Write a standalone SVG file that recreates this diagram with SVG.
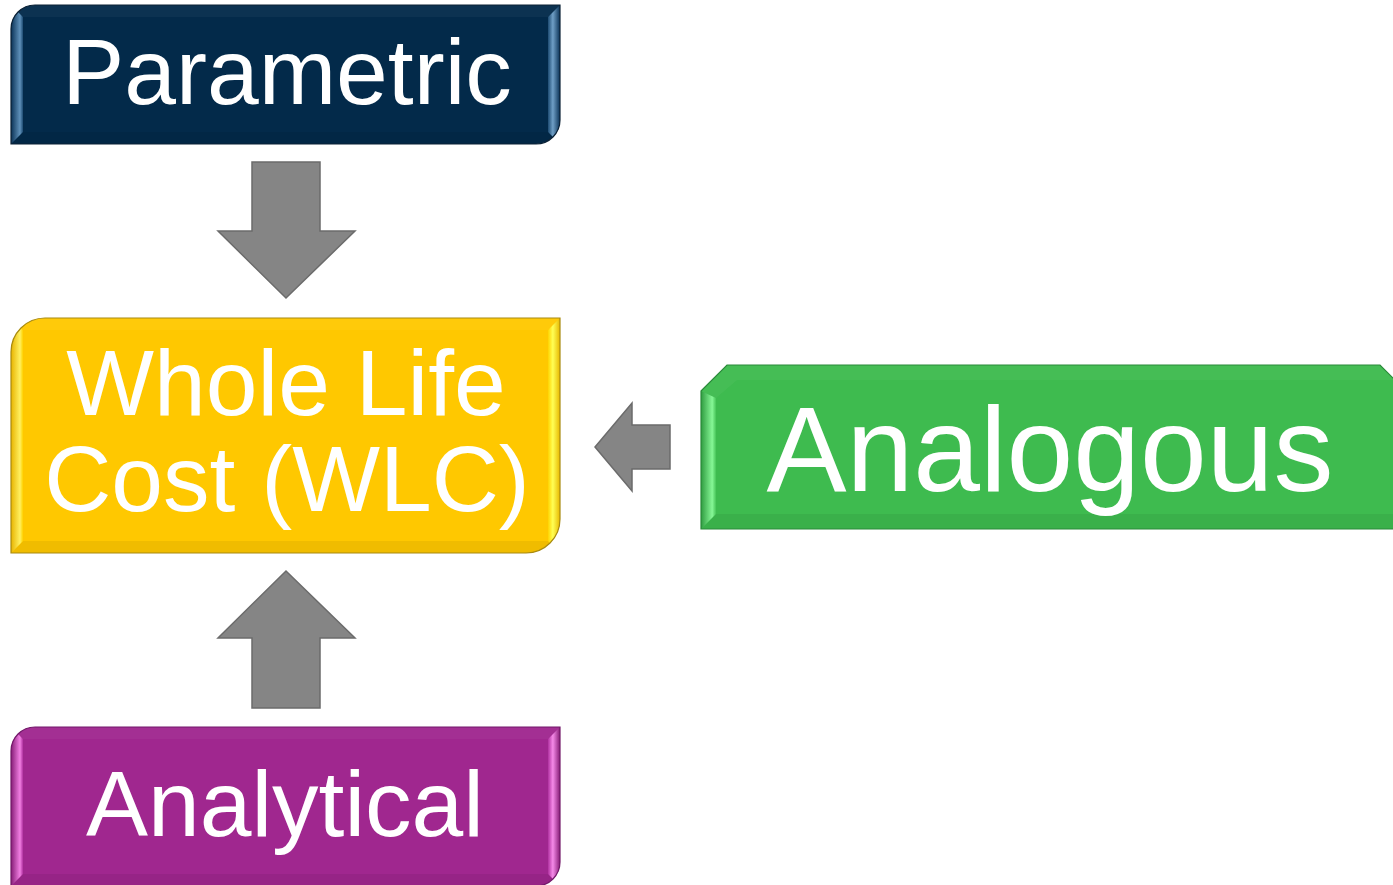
<svg xmlns="http://www.w3.org/2000/svg" width="1393" height="885" viewBox="0 0 1393 885">
  <style>
    .label { font-family: "Liberation Sans", Arial, sans-serif; fill: #ffffff; text-anchor: middle; }
    .arrow { fill: #858585; stroke: #6b6b6b; stroke-width: 1.5; stroke-linejoin: miter; }
    .shade { fill: #000000; opacity: 0.06; }
    .gloss { fill: #ffffff; opacity: 0.04; }
  </style>
  <defs>
    <!-- side bevel gradients per colour (outer edge to inner edge) -->
    <linearGradient id="navyL" x1="0" x2="1" y1="0" y2="0">
      <stop offset="0" stop-color="#0a3256"/><stop offset="0.75" stop-color="#5f91ba"/><stop offset="1" stop-color="#1d4b72"/>
    </linearGradient>
    <linearGradient id="navyR" x1="1" x2="0" y1="0" y2="0">
      <stop offset="0" stop-color="#0a3256"/><stop offset="0.6" stop-color="#6f9fc6"/><stop offset="1" stop-color="#1d4b72"/>
    </linearGradient>
    <linearGradient id="yelL" x1="0" x2="1" y1="0" y2="0">
      <stop offset="0" stop-color="#e8b400"/><stop offset="0.75" stop-color="#fff060"/><stop offset="1" stop-color="#ffd200"/>
    </linearGradient>
    <linearGradient id="yelR" x1="1" x2="0" y1="0" y2="0">
      <stop offset="0" stop-color="#e8b800"/><stop offset="0.6" stop-color="#ffff55"/><stop offset="1" stop-color="#ffd400"/>
    </linearGradient>
    <linearGradient id="grnL" x1="0" x2="1" y1="0" y2="0">
      <stop offset="0" stop-color="#2f9c40"/><stop offset="0.75" stop-color="#86f796"/><stop offset="1" stop-color="#47c458"/>
    </linearGradient>
    <linearGradient id="grnR" x1="1" x2="0" y1="0" y2="0">
      <stop offset="0" stop-color="#2f9c40"/><stop offset="0.6" stop-color="#78ec88"/><stop offset="1" stop-color="#47c458"/>
    </linearGradient>
    <linearGradient id="purL" x1="0" x2="1" y1="0" y2="0">
      <stop offset="0" stop-color="#861c76"/><stop offset="0.75" stop-color="#f27fe3"/><stop offset="1" stop-color="#b031a0"/>
    </linearGradient>
    <linearGradient id="purR" x1="1" x2="0" y1="0" y2="0">
      <stop offset="0" stop-color="#861c76"/><stop offset="0.6" stop-color="#f58ae8"/><stop offset="1" stop-color="#b031a0"/>
    </linearGradient>

    <clipPath id="clipPar"><path d="M11,29 A24,24 0 0 1 35,5 L560,5 L560,120 A24,24 0 0 1 536,144 L11,144 Z"/></clipPath>
    <clipPath id="clipWlc"><path d="M11,352 A34,34 0 0 1 45,318 L560,318 L560,519 A34,34 0 0 1 526,553 L11,553 Z"/></clipPath>
    <clipPath id="clipAna"><path d="M11,751 A24,24 0 0 1 35,727 L560,727 L560,862 A24,24 0 0 1 536,886 L11,886 Z"/></clipPath>
    <clipPath id="clipAnl"><path d="M701,391 L727,365 L1380,365 L1410,395 L1410,529 L701,529 Z"/></clipPath>
  </defs>

  <!-- block arrows -->
  <g id="connectors">
    <polygon class="arrow" points="252,162 320,162 320,231 355,231 286,298 218,231 252,231"/>
    <polygon class="arrow" points="670,425 670,469 632,469 632,491 595,447 632,403 632,425"/>
    <polygon class="arrow" points="286,571 355,638 320,638 320,708 252,708 252,638 218,638"/>
  </g>

  <g id="node-parametric">
    <path d="M11,29 A24,24 0 0 1 35,5 L560,5 L560,120 A24,24 0 0 1 536,144 L11,144 Z" fill="#032a4a"/>
    <g clip-path="url(#clipPar)">
      <polygon class="gloss" points="11,5 560,5 548,17 23,17"/>
      <polygon class="shade" points="11,144 23,132 548,132 560,144"/>
      <polygon fill="url(#navyL)" points="11,5 23,17 23,132 11,144"/>
      <polygon fill="url(#navyR)" points="560,5 548,17 548,132 560,144"/>
    </g>
    <path d="M11,29 A24,24 0 0 1 35,5 L560,5 L560,120 A24,24 0 0 1 536,144 L11,144 Z" fill="none" stroke="#0c2236" stroke-width="1.2"/>
    <text class="label" x="287" y="104" font-size="93">Parametric</text>
  </g>

  <g id="node-wlc">
    <path d="M11,352 A34,34 0 0 1 45,318 L560,318 L560,519 A34,34 0 0 1 526,553 L11,553 Z" fill="#ffc800"/>
    <g clip-path="url(#clipWlc)">
      <polygon class="gloss" points="11,318 560,318 548,330 23,330"/>
      <polygon class="shade" points="11,553 23,541 548,541 560,553"/>
      <polygon fill="url(#yelL)" points="11,318 23,330 23,541 11,553"/>
      <polygon fill="url(#yelR)" points="560,318 548,330 548,541 560,553"/>
    </g>
    <path d="M11,352 A34,34 0 0 1 45,318 L560,318 L560,519 A34,34 0 0 1 526,553 L11,553 Z" fill="none" stroke="#a88a10" stroke-width="1.2"/>
    <text class="label" x="286" y="415" font-size="93">Whole Life</text>
    <text class="label" x="287" y="511" font-size="93">Cost (WLC)</text>
  </g>

  <g id="node-analogous">
    <path d="M701,391 L727,365 L1380,365 L1410,395 L1410,529 L701,529 Z" fill="#3ebb4f"/>
    <g clip-path="url(#clipAnl)">
      <polygon class="gloss" points="727,365 1380,365 1395,380 737,380 716,398 701,391"/>
      <polygon class="shade" points="701,529 716,514 1395,514 1410,529"/>
      <polygon fill="url(#grnL)" points="701,391 716,398 716,514 701,529"/>
      <polygon fill="url(#grnR)" points="1380,365 1395,380 1395,514 1410,529 1410,395"/>
    </g>
    <path d="M701,391 L727,365 L1380,365 L1410,395 L1410,529 L701,529 Z" fill="none" stroke="#2b8a3a" stroke-width="1.2"/>
    <text class="label" x="1050" y="491" font-size="120">Analogous</text>
  </g>

  <g id="node-analytical">
    <path d="M11,751 A24,24 0 0 1 35,727 L560,727 L560,862 A24,24 0 0 1 536,886 L11,886 Z" fill="#a0278f"/>
    <g clip-path="url(#clipAna)">
      <polygon class="gloss" points="11,727 560,727 548,739 23,739"/>
      <polygon class="shade" points="11,886 23,874 548,874 560,886"/>
      <polygon fill="url(#purL)" points="11,727 23,739 23,874 11,886"/>
      <polygon fill="url(#purR)" points="560,727 548,739 548,874 560,886"/>
    </g>
    <path d="M11,751 A24,24 0 0 1 35,727 L560,727 L560,862 A24,24 0 0 1 536,886 L11,886 Z" fill="none" stroke="#73196a" stroke-width="1.2"/>
    <text class="label" x="285" y="836" font-size="93">Analytical</text>
  </g>
</svg>
